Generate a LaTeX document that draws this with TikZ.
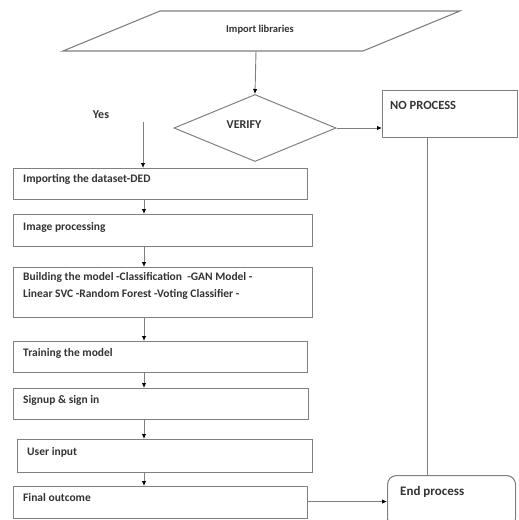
\documentclass[tikz,border=0pt]{standalone}
\usepackage{fontspec}
\setmainfont{Carlito}
\usetikzlibrary{arrows.meta,shapes.geometric}
\definecolor{edge}{HTML}{808080}
\definecolor{ink}{HTML}{333333}
\tikzset{
  box/.style={draw=edge, line width=1.1pt, rectangle, inner sep=0pt, anchor=north west},
  lbl/.style={text=ink, font=\bfseries\fontsize{11.5}{17}\selectfont, inner sep=0pt, anchor=west, align=left},
  conn/.style={draw=edge, line width=0.9pt},
  arr/.style={conn, -{Latex[length=5pt,width=4.5pt,color=black,fill=black]}},
}
\begin{document}
\begin{tikzpicture}[x=1pt,y=-1pt]
\useasboundingbox (0,0) rectangle (519,520);

% start: parallelogram
\coordinate (pTL) at (160,11);
\coordinate (pTR) at (460,11);
\coordinate (pBR) at (363,51);
\coordinate (pBL) at (63,51);
\draw[draw=edge, line width=1.1pt] (pTL) -- (pTR) -- (pBR) -- (pBL) -- cycle;
\node[lbl, anchor=center, font=\bfseries\fontsize{10.5}{12}\selectfont] (imp) at (260,30) {Import libraries};
\coordinate (impout) at (256,51);

% decision
\node[draw=edge, line width=1pt, diamond, minimum width=162pt, minimum height=67pt, inner sep=0pt] (ver) at (255,128) {};
\node[lbl, anchor=center, font=\bfseries\fontsize{12}{14}\selectfont] (vert) at (244,125) {VERIFY};

% process boxes
\node[box, minimum width=294pt, minimum height=31pt] (b1) at (13,168) {};
\node[box, minimum width=299pt, minimum height=32pt] (b2) at (13,214) {};
\node[box, minimum width=299pt, minimum height=50pt] (b3) at (13,267) {};
\node[box, minimum width=294pt, minimum height=31pt] (b4) at (13,341) {};
\node[box, minimum width=295pt, minimum height=31pt] (b5) at (13,388) {};
\node[box, minimum width=295pt, minimum height=33pt] (b6) at (17,439) {};
\node[box, minimum width=294pt, minimum height=32pt] (b7) at (13,486) {};

\node[lbl] (t1) at (23,179) {Importing the dataset-DED};
\node[lbl] (t2) at (23,227) {Image processing};
\node[lbl, anchor=north west] (t3) at (23,272) {Building the model -Classification \ -GAN Model -\\Linear SVC -Random Forest -Voting Classifier -};
\node[lbl] (t4) at (23,353) {Training the model};
\node[lbl] (t5) at (23,400) {Signup \& sign in};
\node[lbl] (t6) at (27,452) {User input};
\node[lbl] (t7) at (23,498) {Final outcome};

% right-hand boxes
\node[box, minimum width=135pt, minimum height=47pt] (np) at (382,90) {};
\node[lbl, font=\bfseries\fontsize{12.5}{14}\selectfont] (npt) at (390,105) {NO PROCESS};
\node[box, rounded corners=9pt, minimum width=128pt, minimum height=52pt] (ep) at (387,475) {};
\node[lbl, font=\bfseries\fontsize{13}{15}\selectfont] (ept) at (400,492) {End process};

\node[text=ink, font=\bfseries\fontsize{12}{14}\selectfont, inner sep=0pt] (yes) at (101,115) {Yes};

% connector guides
\coordinate (spine) at (144,0);
\coordinate (yesstart) at (143,122);
\coordinate (drop) at (427,0);

% connectors
\draw[arr] (impout) -- (ver.north);
\draw[arr] (ver.east) -- (ver.east -| np.west);
\draw[arr] (yesstart) -- (yesstart |- b1.north);
\draw[arr] (b1.south -| spine) -- (b2.north -| spine);
\draw[arr] (b2.south -| spine) -- (b3.north -| spine);
\draw[arr] (b3.south -| spine) -- (b4.north -| spine);
\draw[arr] (b4.south -| spine) -- (b5.north -| spine);
\draw[arr] (b5.south -| spine) -- (b6.north -| spine);
\draw[arr] (b6.south -| spine) -- (b7.north -| spine);
\draw[conn] (np.south -| drop) -- (ep.north -| drop);
\draw[arr] (b7.east |- ep.west) -- (ep.west);
\end{tikzpicture}
\end{document}
